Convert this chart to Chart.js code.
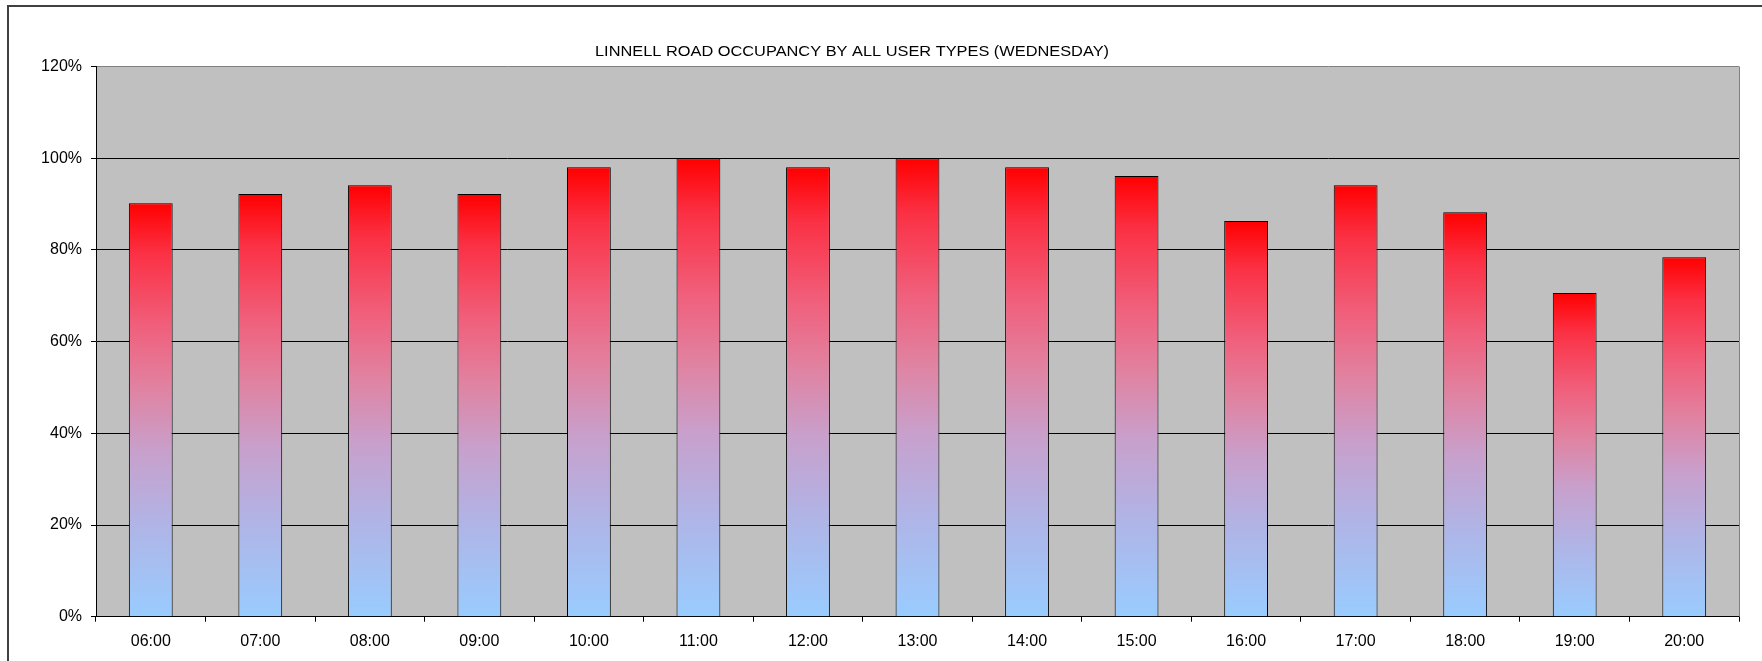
<!DOCTYPE html>
<html>
<head>
<meta charset="utf-8">
<script src="https://cdn.jsdelivr.net/npm/chart.js@4"></script>
<style>
  html, body { margin: 0; padding: 0; background: #ffffff; }
  #wrap { width: 1762px; height: 661px; position: relative; }
</style>
</head>
<body>
<div id="wrap"><canvas id="c" width="1762" height="661"></canvas></div>
<script>
const chartTitle = 'LINNELL ROAD OCCUPANCY BY ALL USER TYPES (WEDNESDAY)';
const categories = ['06:00','07:00','08:00','09:00','10:00','11:00','12:00','13:00','14:00','15:00','16:00','17:00','18:00','19:00','20:00'];
const occupancy = [90.2, 92.2, 94.1, 92.2, 98.0, 100, 98.0, 100, 98.0, 96.1, 86.3, 94.1, 88.2, 70.6, 78.4];
const yTicks = [0, 20, 40, 60, 80, 100, 120];

const FONT = '"Liberation Sans", Arial, sans-serif';

function barGradient(ctx) {
  const chart = ctx.chart;
  const ys = chart.scales && chart.scales.y;
  if (!ys || !chart.chartArea || ctx.type !== 'data') return '#e080a0';
  const top = ys.getPixelForValue(ctx.raw);
  const base = ys.getPixelForValue(0);
  if (!isFinite(top) || !isFinite(base) || base === top) return '#e080a0';
  const g = chart.ctx.createLinearGradient(0, top, 0, base);
  g.addColorStop(0.00, '#ff0000');
  g.addColorStop(0.12, '#fb3044');
  g.addColorStop(0.30, '#f0607c');
  g.addColorStop(0.45, '#e083a2');
  g.addColorStop(0.60, '#c8a0cc');
  g.addColorStop(0.78, '#b0b4e6');
  g.addColorStop(1.00, '#99ccff');
  return g;
}

const decor = {
  id: 'decor',
  beforeDraw(chart) {
    const { ctx, chartArea: a } = chart;
    ctx.save();
    ctx.fillStyle = '#c0c0c0';
    ctx.fillRect(a.left, a.top, a.right - a.left, a.bottom - a.top);
    ctx.restore();
  },
  afterDraw(chart) {
    const { ctx, chartArea: a } = chart;
    ctx.save();
    // right plot border (grey)
    ctx.strokeStyle = '#808080';
    ctx.lineWidth = 1;
    ctx.beginPath();
    ctx.moveTo(Math.round(a.right) + 0.5, a.top);
    ctx.lineTo(Math.round(a.right) + 0.5, a.bottom);
    ctx.stroke();
    // outer chart border
    ctx.strokeStyle = '#404040';
    ctx.lineWidth = 2;
    ctx.beginPath();
    ctx.moveTo(8, 661);
    ctx.lineTo(8, 6);
    ctx.lineTo(1762, 6);
    ctx.stroke();
    // title
    ctx.fillStyle = '#000000';
    ctx.font = '15px ' + FONT;
    ctx.textAlign = 'center';
    ctx.textBaseline = 'alphabetic';
    const w = ctx.measureText(chartTitle).width || 1;
    const sx = 514 / w;
    ctx.translate(852, 56);
    ctx.scale(sx, 1);
    ctx.fillText(chartTitle, 0, 0);
    ctx.restore();
  }
};

new Chart(document.getElementById('c'), {
  type: 'bar',
  data: {
    labels: categories,
    datasets: [{
      label: 'Occupancy',
      data: occupancy,
      backgroundColor: barGradient,
      borderColor: '#000000',
      borderWidth: 1,
      borderSkipped: 'bottom',
      barPercentage: 0.4,
      categoryPercentage: 1.0
    }]
  },
  options: {
    responsive: false,
    animation: false,
    devicePixelRatio: 1,
    layout: { padding: { left: 0, top: 66.5, right: 23, bottom: 0 } },
    plugins: {
      legend: { display: false },
      title: { display: false },
      tooltip: { enabled: false }
    },
    scales: {
      x: {
        offset: true,
        grid: {
          offset: true,
          drawOnChartArea: false,
          drawTicks: true,
          tickLength: 5,
          tickColor: '#000000',
          color: '#000000'
        },
        border: { display: true, color: '#000000', width: 1 },
        ticks: {
          color: '#000000',
          font: { family: FONT, size: 16 },
          padding: 10,
          maxRotation: 0,
          autoSkip: false
        },
        afterFit(scale) { scale.height = 44.3; }
      },
      y: {
        min: 0,
        max: 120,
        afterBuildTicks(scale) { scale.ticks = yTicks.map(v => ({ value: v })); },
        grid: {
          color: (c) => (c.tick && c.tick.value === 120) ? '#808080' : '#000000',
          lineWidth: 1,
          drawTicks: true,
          tickLength: 5,
          tickColor: '#000000'
        },
        border: { display: true, color: '#000000', width: 1 },
        ticks: {
          color: '#000000',
          font: { family: FONT, size: 16 },
          padding: 9,
          callback: (v) => v + '%'
        },
        afterFit(scale) { scale.width = 96; }
      }
    }
  },
  plugins: [decor]
});
</script>
</body>
</html>
